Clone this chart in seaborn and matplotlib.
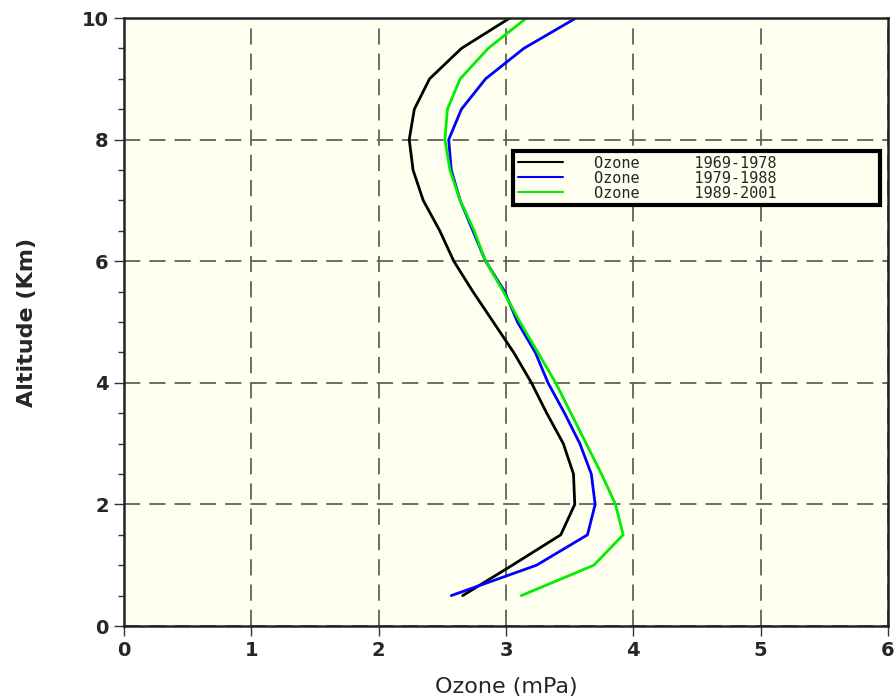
import matplotlib
matplotlib.use("Agg")
import matplotlib.pyplot as plt
import seaborn as sns
import pandas as pd
from matplotlib.ticker import MultipleLocator

altitude = [0.5, 1.0, 1.5, 2.0, 2.5, 3.0, 3.5, 4.0, 4.5, 5.0, 5.5, 6.0, 6.5, 7.0, 7.5, 8.0, 8.5, 9.0, 9.5, 10.0]
ozone_1969_1978 = [2.66, 3.05, 3.43, 3.54, 3.53, 3.45, 3.32, 3.20, 3.06, 2.90, 2.74, 2.59, 2.48, 2.35, 2.27, 2.24, 2.28, 2.40, 2.65, 3.03]
ozone_1979_1988 = [2.57, 3.24, 3.64, 3.70, 3.67, 3.58, 3.46, 3.33, 3.23, 3.09, 2.99, 2.84, 2.74, 2.64, 2.57, 2.55, 2.65, 2.84, 3.14, 3.55]
ozone_1989_2001 = [3.12, 3.69, 3.92, 3.86, 3.75, 3.63, 3.51, 3.39, 3.25, 3.11, 2.98, 2.84, 2.75, 2.64, 2.56, 2.52, 2.54, 2.64, 2.86, 3.16]
labels = ["Ozone      1969-1978", "Ozone      1979-1988", "Ozone      1989-2001"]
colors = ["#000000", "#0000FF", "#00EE00"]
x_ticks = [0, 1, 2, 3, 4, 5, 6]
y_ticks = [0, 2, 4, 6, 8, 10]

rows = []
for lab, vals in zip(labels, [ozone_1969_1978, ozone_1979_1988, ozone_1989_2001]):
    for a, o in zip(altitude, vals):
        rows.append({"Altitude": a, "Ozone": o, "Period": lab})
df = pd.DataFrame(rows)

sns.set_theme(style="white")
plt.rcParams['font.family'] = ['DejaVu Sans']

fig = plt.figure(figsize=(8.95, 6.96), dpi=100)
ax = fig.add_axes([124/895, 70/696, 764/895, 608/696])
ax.set_facecolor("#FFFFF0")

sns.lineplot(data=df, x="Ozone", y="Altitude", hue="Period", palette=colors,
             sort=False, estimator=None, linewidth=2, ax=ax, legend=True)

ax.set_xlim(0, 6)
ax.set_ylim(0, 10)
ax.set_xticks(x_ticks)
ax.set_yticks(y_ticks)
ax.yaxis.set_minor_locator(MultipleLocator(0.5))
ax.grid(True, which="major", color="#606060", linestyle=(0, (9, 5)), linewidth=1.3)
ax.set_axisbelow(True)
for s in ax.spines.values():
    s.set_color("#222222")
    s.set_linewidth(1.8)
ax.tick_params(axis="both", which="major", direction="out", length=7, width=1, color="#333333",
               labelsize=14, pad=4)
ax.tick_params(axis="y", which="minor", direction="out", length=4, width=1, color="#333333", left=True)
ax.tick_params(axis="y", which="major", left=True)
ax.tick_params(axis="x", which="major", bottom=True)
for lbl in ax.get_xticklabels() + ax.get_yticklabels():
    lbl.set_fontweight("bold")
ax.set_xlabel("Ozone (mPa)", fontsize=16, labelpad=12)
ax.set_ylabel("Altitude (Km)", fontsize=16, fontweight="bold", labelpad=32)

x0 = (513 - 124) / 764
x1 = (880 - 124) / 764
y0 = (626 - 202) / 608
y1 = (626 - 151) / 608
leg = ax.legend(loc="upper left", bbox_to_anchor=(x0, y0, x1 - x0, y1 - y0), mode="expand",
                frameon=True, prop={"family": "DejaVu Sans Mono", "size": 11},
                handlelength=3.0, labelspacing=0.0, borderpad=0.3, borderaxespad=0,
                handletextpad=2.0, fancybox=False, framealpha=1)
leg.get_frame().set_edgecolor("black")
leg.get_frame().set_linewidth(3)
leg.get_frame().set_facecolor("#FFFFF0")
for line in leg.get_lines():
    line.set_linewidth(1.5)

fig.savefig("out.png", dpi=100, facecolor="white")
